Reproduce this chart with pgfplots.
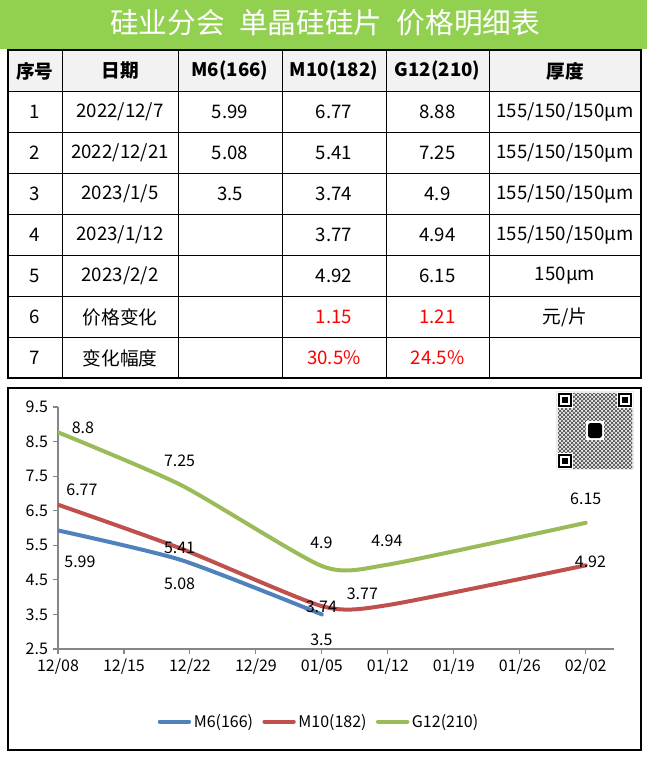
\documentclass[border=0pt]{standalone}
\usepackage{fontspec}
\setmainfont{Noto Sans CJK SC}
\usepackage{pgfplots}
\pgfplotsset{compat=1.18}
\usetikzlibrary{patterns}
\definecolor{hdrgreen}{HTML}{92D050}
\definecolor{hdrgray}{HTML}{F2F2F2}
\definecolor{sBlue}{HTML}{4F81BD}
\definecolor{sRed}{HTML}{C0504D}
\definecolor{sGreen}{HTML}{9BBB59}
\definecolor{axgray}{HTML}{868686}

% days counted from 12/08
\pgfplotstableread{
x y
-1 5.99
13 5.08
28 3.5
}\mSix
\pgfplotstableread{
x y
-1 6.77
13 5.41
28 3.74
35 3.77
56 4.92
}\mTen
\pgfplotstableread{
x y
-1 8.88
13 7.25
28 4.9
35 4.94
56 6.15
}\gTwelve

\newcommand\tfont{\fontsize{14pt}{14pt}\selectfont}
\newcommand\lfont{\fontsize{12pt}{12pt}\selectfont}

\begin{document}
\begin{tikzpicture}
\begin{scope}[x=0.75pt,y=-0.75pt]
\useasboundingbox (0,0) rectangle (649,767);
% title bar
\fill[hdrgreen] (0,0) rectangle (647,49);
\node[text=white] at (325,23) {\fontsize{21.5pt}{21.5pt}\selectfont 硅业分会\hspace{0.5em}单晶硅硅片\hspace{0.5em}价格明细表};
% table
\fill[hdrgray] (8,50) rectangle (641,91.5);
\foreach \yy in {91.5,132.5,173.5,214.5,255.5,296.5,337.5}
  \draw[line width=0.75pt] (8,\yy) -- (641,\yy);
\foreach \xx in {62,178,282,386,489}
  \draw[line width=0.75pt] (\xx,50) -- (\xx,378);
\draw[line width=1.5pt] (8,50) rectangle (641,378);
\begin{scope}[every node/.style={font=\tfont}]
\node at (35,71) {\textbf{序号}};
\node at (120,71) {\textbf{日期}};
\node at (230,71) {\textbf{M6(166)}};
\node at (334,71) {\textbf{M10(182)}};
\node at (437.5,71) {\textbf{G12(210)}};
\node at (565,71) {\textbf{厚度}};
\node at (35,112) {1}; \node at (120,112) {2022/12/7}; \node at (230,112) {5.99};
\node at (334,112) {6.77}; \node at (437.5,112) {8.88}; \node at (565,112) {155/150/150μm};
\node at (35,153) {2}; \node at (120,153) {2022/12/21}; \node at (230,153) {5.08};
\node at (334,153) {5.41}; \node at (437.5,153) {7.25}; \node at (565,153) {155/150/150μm};
\node at (35,194) {3}; \node at (120,194) {2023/1/5}; \node at (230,194) {3.5};
\node at (334,194) {3.74}; \node at (437.5,194) {4.9}; \node at (565,194) {155/150/150μm};
\node at (35,235) {4}; \node at (120,235) {2023/1/12};
\node at (334,235) {3.77}; \node at (437.5,235) {4.94}; \node at (565,235) {155/150/150μm};
\node at (35,276) {5}; \node at (120,276) {2023/2/2};
\node at (334,276) {4.92}; \node at (437.5,276) {6.15}; \node at (565,276) {150μm};
\node at (35,317) {6}; \node at (120,317) {价格变化};
\node[text=red] at (334,317) {1.15}; \node[text=red] at (437.5,317) {1.21}; \node at (565,317) {元/片};
\node at (35,358) {7}; \node at (120,358) {变化幅度};
\node[text=red] at (334,358) {30.5\%}; \node[text=red] at (437.5,358) {24.5\%};
\end{scope}
% chart frame
\draw[line width=1.5pt] (8,388) rectangle (641,750);
% QR-like mark
\fill[black!8] (556,391) rectangle (634,470);
\fill[pattern=crosshatch, pattern color=black!75] (558,393) rectangle (632,468);
\foreach \qx/\qy in {558/393,618/393,558/454}{
  \fill[white] (\qx-1,\qy-1) rectangle ++(16,16);
  \fill[black] (\qx,\qy) rectangle ++(14,14);
  \fill[white] (\qx+2,\qy+2) rectangle ++(10,10);
  \fill[black] (\qx+4,\qy+4) rectangle ++(6,6);
}
\fill[white] (586,421) rectangle (604,440);
\fill[black, rounded corners=2pt] (588,423) rectangle (602,438);
\end{scope}

\begin{axis}[
  at={(43.5pt,-486.75pt)}, anchor=south west,
  scale only axis, width=417pt, height=181.5pt,
  xmin=0, xmax=59, ymin=2.5, ymax=9.5,
  axis lines*=left,
  axis line style={axgray, line width=0.8pt},
  tick style={axgray, line width=0.8pt},
  tick align=outside, major tick length=4pt,
  xtick={0,7,...,56},
  xticklabels={12/08,12/15,12/22,12/29,01/05,01/12,01/19,01/26,02/02},
  ytick={2.5,3.5,...,9.5},
  yticklabel style={/pgf/number format/.cd, fixed, fixed zerofill, precision=1},
  /pgf/number format/assume math mode=true,
  tick label style={font=\lfont},
  clip mode=individual,
  every axis plot/.append style={line width=3pt, smooth, tension=0.38, line cap=round, no markers},
  legend style={at={(0.47,-0.30)}, anchor=center, draw=none, fill=none,
    legend columns=3, font=\lfont,
    /tikz/every even column/.append style={column sep=5pt}},
  legend image code/.code={\draw[#1] (0pt,0pt) -- (22pt,0pt);},
]
\addplot[sBlue] table[x=x,y=y] {\mSix};
\addplot[sRed] table[x=x,y=y] {\mTen};
\addplot[sGreen] table[x=x,y=y] {\gTwelve};
\legend{M6(166),M10(182),G12(210)}
\begin{scope}[every node/.style={font=\lfont}]
\node at (axis cs:2.65,8.89) {8.8};
\node at (axis cs:12.9,7.94) {7.25};
\node at (axis cs:2.54,7.10) {6.77};
\node at (axis cs:2.33,5.02) {5.99};
\node at (axis cs:12.9,5.42) {5.41};
\node at (axis cs:12.9,4.38) {5.08};
\node at (axis cs:27.95,5.57) {4.9};
\node at (axis cs:27.95,3.71) {3.74};
\node at (axis cs:27.95,2.76) {3.5};
\node at (axis cs:34.9,5.62) {4.94};
\node at (axis cs:32.3,4.09) {3.77};
\node at (axis cs:56.0,6.84) {6.15};
\node at (axis cs:56.5,5.02) {4.92};
\end{scope}
\end{axis}
\end{tikzpicture}
\end{document}
